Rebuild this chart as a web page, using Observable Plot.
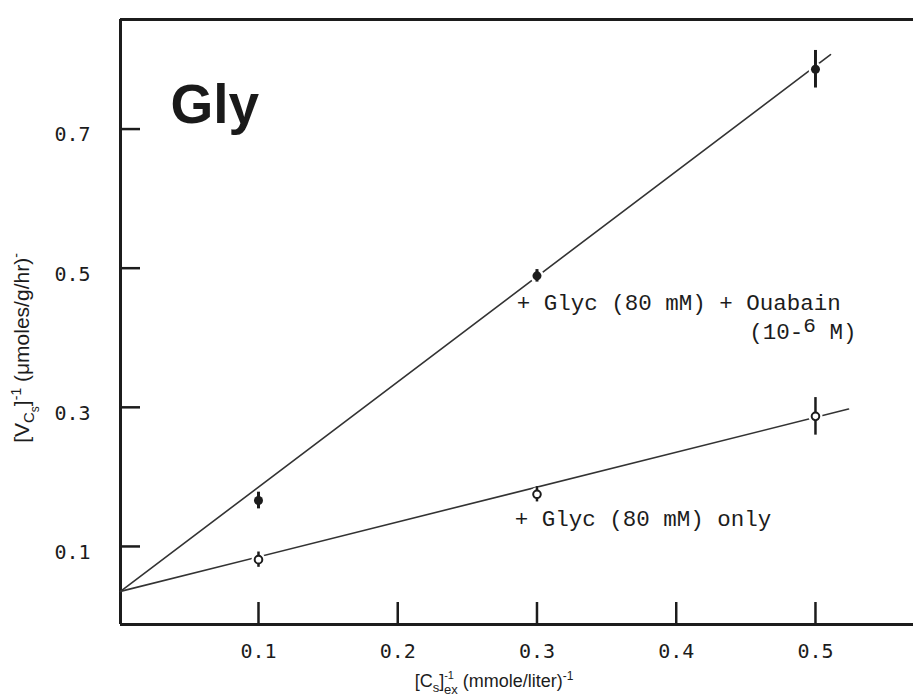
<!DOCTYPE html>
<html><head><meta charset="utf-8">
<script src="https://cdn.jsdelivr.net/npm/d3@7"></script>
<script src="https://cdn.jsdelivr.net/npm/@observablehq/plot@0.6"></script>
<style>body{margin:0;background:#fff}#chart svg{display:block}</style>
</head><body><div id="chart"></div>
<script>
// ---- data ----
const xTicks = [0.1, 0.2, 0.3, 0.4, 0.5];
const yTicks = [0.1, 0.3, 0.5, 0.7];
const conc = [0.1, 0.3, 0.5];
const ouabainV = [0.166, 0.489, 0.786];
const ouabainErr = [0.012, 0.009, 0.027];
const glycV = [0.081, 0.175, 0.287];
const glycErr = [0.011, 0.011, 0.027];
const ouabainFitX = [0.0009, 0.5108];
const ouabainFitY = [0.0354, 0.807];
const glycFitX = [0.0009, 0.5237];
const glycFitY = [0.0354, 0.2975];
const labelText = ["+ Glyc (80 mM) + Ouabain", "(10-6 M)", "+ Glyc (80 mM) only"];
const labelX = [0.2855, 0.4525, 0.284];
const labelY = [0.44, 0.398, 0.129];
const panelTitle = "Gly";
const xDomain = [0.0009, 0.5704];
const yDomain = [-0.0122, 0.8575];

// ---- tables built from arrays ----
const ouabain = conc.map((x, i) => ({x, y: ouabainV[i], e: ouabainErr[i]}));
const glyc = conc.map((x, i) => ({x, y: glycV[i], e: glycErr[i]}));
const fitO = ouabainFitX.map((x, i) => ({x, y: ouabainFitY[i]}));
const fitG = glycFitX.map((x, i) => ({x, y: glycFitY[i]}));
const labels = labelText.map((t, i) => ({t, x: labelX[i], y: labelY[i]}));

const ink = "#1c1c1c";
const mono = "'Liberation Mono', 'Courier New', monospace";
const tickFont = "'DejaVu Sans Mono', monospace";

const plot = Plot.plot({
  width: 913,
  height: 695,
  marginLeft: 120,
  marginRight: 0,
  marginTop: 19,
  marginBottom: 71,
  style: {background: "#fff", fontFamily: "'Liberation Sans', Arial, sans-serif", overflow: "visible"},
  x: {domain: xDomain, axis: null},
  y: {domain: yDomain, axis: null},
  marks: [
    // frame: top, left, bottom
    Plot.ruleY([yDomain[1]], {stroke: ink, strokeWidth: 3}),
    Plot.ruleY([yDomain[0]], {stroke: ink, strokeWidth: 3}),
    Plot.ruleX([xDomain[0]], {stroke: ink, strokeWidth: 3}),
    // inward ticks
    Plot.ruleX(xTicks, {x: d => d, y1: yDomain[0], y2: yDomain[0], insetTop: -22, stroke: ink, strokeWidth: 2.5}),
    Plot.ruleY(yTicks, {y: d => d, x1: xDomain[0], x2: xDomain[0], insetRight: -20, stroke: ink, strokeWidth: 2.5}),
    // tick labels
    Plot.text(xTicks, {x: d => d, y: yDomain[0], dy: 27, text: d => d.toFixed(1), fontFamily: tickFont, fontSize: 20, fill: ink}),
    Plot.text(yTicks, {x: xDomain[0], y: d => d, dx: -30, dy: 6, text: d => d.toFixed(1), textAnchor: "end", fontFamily: tickFont, fontSize: 20, fill: ink}),
    // fitted lines
    Plot.line(fitO, {x: "x", y: "y", stroke: "#333", strokeWidth: 1.6}),
    Plot.line(fitG, {x: "x", y: "y", stroke: "#333", strokeWidth: 1.6}),
    // white halos
    Plot.dot(ouabain, {x: "x", y: "y", r: 7, fill: "#fff"}),
    Plot.dot(glyc, {x: "x", y: "y", r: 7, fill: "#fff"}),
    // error bars
    Plot.ruleX(ouabain, {x: "x", y1: d => d.y - d.e, y2: d => d.y + d.e, stroke: ink, strokeWidth: 3}),
    Plot.ruleX(glyc, {x: "x", y1: d => d.y - d.e, y2: d => d.y + d.e, stroke: ink, strokeWidth: 2.5}),
    // markers
    Plot.dot(ouabain, {x: "x", y: "y", r: 4.5, fill: ink}),
    Plot.dot(glyc, {x: "x", y: "y", r: 3.8, fill: "#fff", stroke: ink, strokeWidth: 2}),
    // annotations
    Plot.text(labels, {x: "x", y: "y", text: "t", textAnchor: "start", lineAnchor: "bottom", fontFamily: mono, fontSize: 22.5, fill: ink}),
    // panel title
    Plot.text([panelTitle], {frameAnchor: "top-left", dx: 50, dy: 103, text: d => d, textAnchor: "start", lineAnchor: "bottom", fontSize: 55, fontWeight: "bold", fill: "#1a1a1a", fontFamily: "'Liberation Sans', Arial, sans-serif"}),
    // axis titles (rich text filled in below)
    Plot.text(["XTITLE"], {frameAnchor: "bottom", dx: -23, dy: 62, text: d => d, textAnchor: "middle", lineAnchor: "bottom", fontSize: 18, fill: ink}),
    Plot.text(["YTITLE"], {frameAnchor: "left", dx: -98, dy: 26, rotate: -90, text: d => d, textAnchor: "middle", lineAnchor: "middle", fontSize: 21, fill: ink})
  ]
});

document.getElementById("chart").appendChild(plot);

// ---- rich text (sub/superscripts) ----
const NS = "http://www.w3.org/2000/svg";
function rich(el, parts) {
  el.textContent = "";
  let cur = 0;
  for (const [t, size, shift, dx] of parts) {
    const ts = document.createElementNS(NS, "tspan");
    ts.setAttribute("font-size", size);
    ts.setAttribute("dy", shift - cur);
    if (dx) ts.setAttribute("dx", dx);
    cur = shift;
    ts.textContent = t;
    el.appendChild(ts);
  }
}
for (const el of plot.querySelectorAll("text")) {
  const s = el.textContent;
  if (s === "XTITLE") {
    el.setAttribute("text-anchor", "middle");
    rich(el, [["[C", 18, 0], ["s", 13, 5], ["]", 18, 0], ["-1", 11, -8], ["ex", 13, 7, -10], [" (mmole/liter)", 18, 0], ["-1", 12, -7]]);
  } else if (s === "YTITLE") {
    el.setAttribute("text-anchor", "middle");
    rich(el, [["[V", 21, 0], ["C", 15, 5], ["s", 12, 10], ["]", 21, 0], ["-1", 14, -8], [" (\u03bcmoles/g/hr)", 21, 0], ["-", 14, -8]]);
  } else if (s === "(10-6 M)") {
    rich(el, [["(10-", 22.5, 0], ["6", 21, -7], [" M)", 22.5, 0]]);
  }
}
</script>
</body></html>
